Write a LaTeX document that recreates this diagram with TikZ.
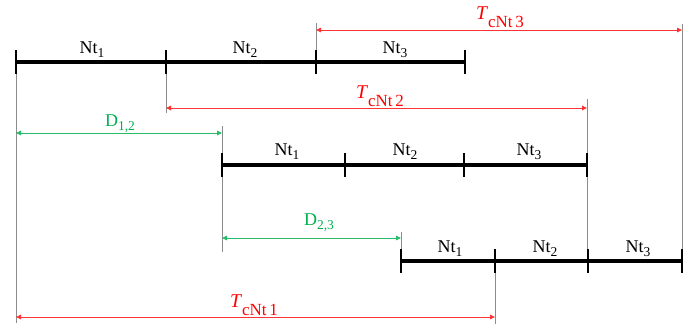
\documentclass[tikz,border=0pt]{standalone}
\usepackage{fontspec}
\setmainfont{Liberation Serif}
\usetikzlibrary{arrows.meta}
\definecolor{myred}{RGB}{255,0,0}
\definecolor{mygreen}{RGB}{0,176,80}
\newcommand\mysb[1]{\raisebox{-4.5pt}{\fontsize{13.5}{14}\selectfont #1}}
\newcommand\mytsb[1]{\raisebox{-8pt}{\fontsize{17}{18}\selectfont #1}}
\begin{document}
\begin{tikzpicture}[x=1pt,y=-1pt,
  bar/.style={line width=3.5pt, black},
  tickmark/.style={line width=2.6pt, black},
  guide/.style={black!45, line width=0.7pt},
  redarr/.style={myred!80, line width=0.9pt, {Triangle[length=5pt,width=4.5pt]}-{Triangle[length=5pt,width=4.5pt]}},
  grnarr/.style={mygreen!85, line width=0.9pt, {Triangle[length=5pt,width=4.5pt]}-{Triangle[length=5pt,width=4.5pt]}},
  lbl/.style={font=\fontsize{18}{20}\selectfont, inner sep=0pt, anchor=base},
  redlbl/.style={lbl, text=myred, font=\fontsize{19.5}{20}\selectfont},
  grnlbl/.style={lbl, text=mygreen}
]
\useasboundingbox (0,0) rectangle (691,325);
% tick positions
\coordinate (a1) at (16,62);  \coordinate (a2) at (166,62);
\coordinate (a3) at (316,62); \coordinate (a4) at (465,62);
\coordinate (b1) at (222,165); \coordinate (b2) at (345,165);
\coordinate (b3) at (464,165); \coordinate (b4) at (587,165);
\coordinate (c1) at (401,261); \coordinate (c2) at (495,261);
\coordinate (c3) at (588,261); \coordinate (c4) at (682,261);
% arrow ends
\coordinate (t3l) at (316,30);  \coordinate (t3r) at (682,30);
\coordinate (t2l) at (166,108); \coordinate (t2r) at (587,108);
\coordinate (d1l) at (16,133);  \coordinate (d1r) at (222,133);
\coordinate (d2l) at (222,238); \coordinate (d2r) at (401,238);
\coordinate (t1l) at (16,317);  \coordinate (t1r) at (495,317);
% guide line ends
\coordinate (g1a) at (16,74);   \coordinate (g1b) at (16,323);
\coordinate (g2a) at (166,74);  \coordinate (g2b) at (166,113);
\coordinate (g3a) at (316,23);  \coordinate (g3b) at (316,52);
\coordinate (g4a) at (222,126); \coordinate (g4b) at (222,252);
\coordinate (g5a) at (587.5,99); \coordinate (g5b) at (587.5,250);
\coordinate (g6a) at (682,24);  \coordinate (g6b) at (682,250);
\coordinate (g7a) at (401,232); \coordinate (g7b) at (401,250);
\coordinate (g8a) at (495,272); \coordinate (g8b) at (495,324);
% guides
\foreach \i in {1,...,8} \draw[guide] (g\i a) -- (g\i b);
% bars
\draw[bar] (a1) -- (a4);
\draw[bar] (b1) -- (b4);
\draw[bar] (c1) -- (c4);
\foreach \p in {a1,a2,a3,a4,b1,b2,b3,b4,c1,c2,c3,c4}
  \draw[tickmark] ([yshift=12pt]\p) -- ([yshift=-12pt]\p);
% segment labels
\node[lbl] (na1) at (92,53) {Nt\mysb{1}};
\node[lbl] (na2) at (245,53) {Nt\mysb{2}};
\node[lbl] (na3) at (395,53) {Nt\mysb{3}};
\node[lbl] (nb1) at (287,155) {Nt\mysb{1}};
\node[lbl] (nb2) at (405,155) {Nt\mysb{2}};
\node[lbl] (nb3) at (529,155) {Nt\mysb{3}};
\node[lbl] (nc1) at (450,252) {Nt\mysb{1}};
\node[lbl] (nc2) at (545,252) {Nt\mysb{2}};
\node[lbl] (nc3) at (638,252) {Nt\mysb{3}};
% dimension arrows
\draw[redarr] (t3l) -- (t3r);
\draw[redarr] (t2l) -- (t2r);
\draw[redarr] (t1l) -- (t1r);
\draw[grnarr] (d1l) -- (d1r);
\draw[grnarr] (d2l) -- (d2r);
% dimension labels
\node[redlbl] (lt3) at (500,19) {\textit{T}\mytsb{cNt\,3}};
\node[redlbl] (lt2) at (380,98) {\textit{T}\mytsb{cNt\,2}};
\node[redlbl] (lt1) at (254,307) {\textit{T}\mytsb{cNt\,1}};
\node[grnlbl] (ld1) at (120,126) {D\mysb{1,2}};
\node[grnlbl] (ld2) at (319,225) {D\mysb{2,3}};
\end{tikzpicture}
\end{document}
